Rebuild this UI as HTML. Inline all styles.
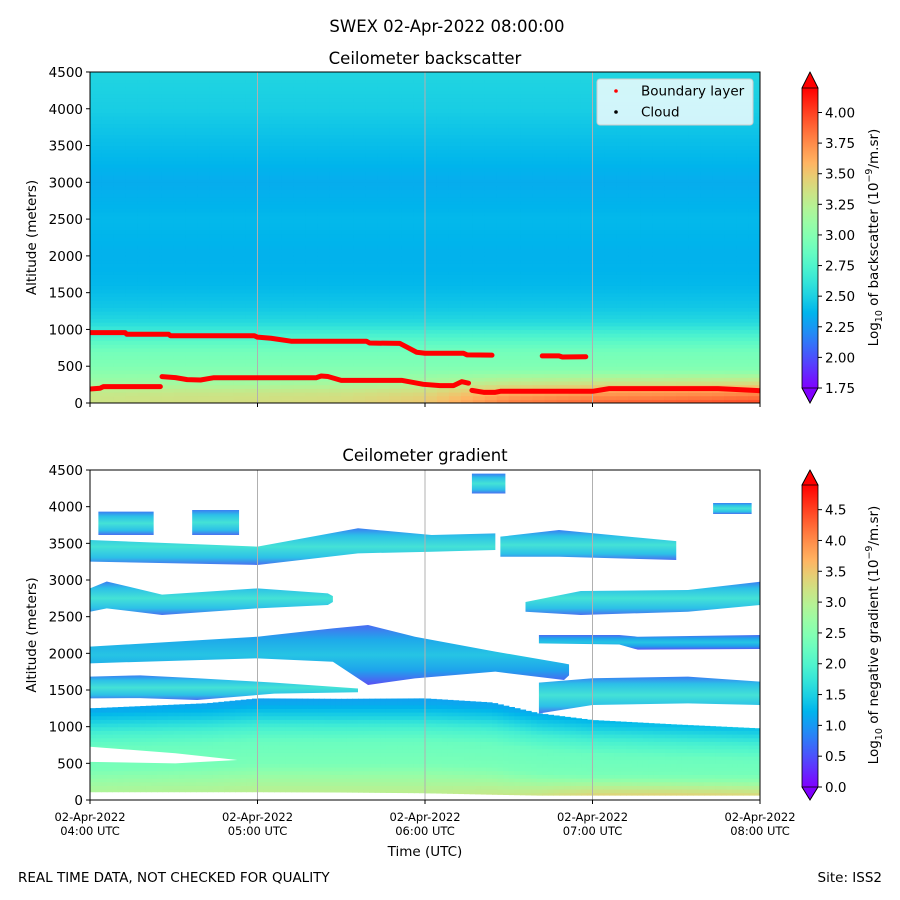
<!DOCTYPE html>
<html><head><meta charset="utf-8"><style>
html,body{margin:0;padding:0;background:#fff}
svg{display:block;font-family:"DejaVu Sans","Liberation Sans",sans-serif}
</style></head><body>
<svg id="fig" width="900" height="900" viewBox="0 0 900 900" xmlns="http://www.w3.org/2000/svg">
<defs>
<clipPath id="clipTop"><rect x="90" y="72" width="670" height="331"/></clipPath>
<clipPath id="clipBot"><rect x="90" y="470" width="670" height="330"/></clipPath>
<linearGradient id="bandGrad" x1="0" y1="0" x2="0" y2="1">
<stop offset="0" stop-color="#3a7ef2"/><stop offset="0.2" stop-color="#2cc0e8"/><stop offset="0.5" stop-color="#44e2d6"/><stop offset="0.8" stop-color="#2cc0e8"/><stop offset="1" stop-color="#4a70f0"/>
</linearGradient>
<linearGradient id="bandGrad2" x1="0" y1="0" x2="0" y2="1">
<stop offset="0" stop-color="#4a6cf2"/><stop offset="0.25" stop-color="#1eaaea"/><stop offset="0.5" stop-color="#26c4e4"/><stop offset="0.75" stop-color="#1ea4ec"/><stop offset="1" stop-color="#5a50f4"/>
</linearGradient>
<linearGradient id="cbTopGrad" x1="0" y1="1" x2="0" y2="0"></linearGradient>
<linearGradient id="cbBotGrad" x1="0" y1="1" x2="0" y2="0"></linearGradient>
</defs>
<text x="447" y="32" font-size="16.5" text-anchor="middle">SWEX 02-Apr-2022 08:00:00</text>
<text x="425" y="64" font-size="16.5" text-anchor="middle">Ceilometer backscatter</text>
<text x="425" y="461" font-size="16.5" text-anchor="middle">Ceilometer gradient</text>
<g id="topHeat" clip-path="url(#clipTop)"></g>
<g id="botHeat" clip-path="url(#clipBot)"></g>
<g id="grid"></g>
<g id="blayer" clip-path="url(#clipTop)"></g>
<rect x="90" y="72" width="670" height="331" fill="none" stroke="#000" stroke-width="1"/>
<rect x="90" y="470" width="670" height="330" fill="none" stroke="#000" stroke-width="1"/>
<g id="axes" font-size="13.5"></g>
<g>
<rect x="597" y="79" width="156" height="46" rx="3" fill="#fff" fill-opacity="0.8" stroke="#ccc"/>
<circle cx="616" cy="91" r="1.8" fill="#f00"/>
<text x="641" y="95.5" font-size="13.5">Boundary layer</text>
<circle cx="616" cy="112" r="1.8" fill="#000"/>
<text x="641" y="116.5" font-size="13.5">Cloud</text>
</g>
<g id="cbars" font-size="13.5"></g>
<text x="425" y="856" font-size="13.5" text-anchor="middle">Time (UTC)</text>
<text x="18" y="882" font-size="13.5">REAL TIME DATA, NOT CHECKED FOR QUALITY</text>
<text x="882" y="882" font-size="13.5" text-anchor="end">Site: ISS2</text>
</svg>
<script>
// ---------- data ----------
const xTickHours = [4, 5, 6, 7, 8];
const xTickLabels = ["04:00 UTC", "05:00 UTC", "06:00 UTC", "07:00 UTC", "08:00 UTC"];
const yTicks = [0, 500, 1000, 1500, 2000, 2500, 3000, 3500, 4000, 4500];
const cbTopTicks = [1.75, 2.00, 2.25, 2.50, 2.75, 3.00, 3.25, 3.50, 3.75, 4.00];
const cbBotTicks = [0.0, 0.5, 1.0, 1.5, 2.0, 2.5, 3.0, 3.5, 4.0, 4.5];

// backscatter profile (log10) vs altitude
const profileAlt = [0, 150, 300, 500, 700, 900, 1100, 1300, 1600, 2000, 2500, 3000, 3500, 4000, 4500];
const profileVal = [3.35, 3.3, 3.1, 2.98, 2.92, 2.75, 2.55, 2.45, 2.38, 2.35, 2.38, 2.33, 2.4, 2.48, 2.52];
const groundHours = [4, 4.5, 5, 5.5, 6, 6.5, 7, 7.5, 8];
const groundOffset = [0, 0.02, 0.03, 0.05, 0.12, 0.35, 0.42, 0.45, 0.5];

// boundary layer (hours, meters), NaN = gap
const blUpperT = [4.0, 4.21, 4.22, 4.47, 4.48, 4.98, 5.0, 5.08, 5.2, 5.65, 5.67, 5.85, 5.9, 5.95, 6.0, 6.23, 6.25, 6.4, NaN, 6.7, 6.8, 6.82, 6.96];
const blUpperA = [956, 956, 934, 934, 915, 915, 895, 880, 840, 840, 815, 810, 750, 690, 676, 676, 655, 650, NaN, 640, 640, 625, 628];
const blLowerT = [4.0, 4.06, 4.08, 4.42, NaN, 4.43, 4.51, 4.58, 4.66, 4.74, 5.35, 5.38, 5.42, 5.5, 5.86, 5.99, 6.09, 6.17, 6.22, 6.26, NaN, 6.28, 6.35, 6.42, 6.45, 7.0, 7.1, 7.75, 7.98, 8.0];
const blLowerA = [190, 200, 222, 222, NaN, 358, 345, 318, 313, 344, 344, 367, 360, 308, 308, 254, 236, 236, 290, 270, NaN, 172, 145, 145, 159, 159, 195, 195, 170, 167];

// gradient panel: lower mass
const massT = [4.0, 4.4, 4.7, 5.0, 5.5, 6.0, 6.4, 6.68, 7.0, 7.5, 8.0];
const massTop = [1250, 1290, 1320, 1386, 1380, 1386, 1330, 1182, 1091, 1030, 977];
const massBot = [114, 114, 114, 114, 110, 100, 80, 68, 68, 68, 68];
const massAlt = [0, 100, 300, 500, 800, 1000, 1150, 1300, 1450];
const massVal = [3.2, 3.05, 2.75, 2.4, 2.25, 1.9, 1.5, 1.15, 1.0];
const massGroundOffset = [0, 0, 0, 0, 0, 0.2, 0.7, 0.8, 0.8];
const wedgeT = [4.0, 4.51, 4.88, 4.51, 4.0];
const wedgeA = [727, 637, 546, 500, 520];

// cloud bands: times, tops, bottoms
const b15LT = [4.0, 4.3, 4.64, 5.0, 5.1, 5.6];
const b15LTop = [1682, 1700, 1660, 1614, 1600, 1520];
const b15LBot = [1386, 1390, 1364, 1432, 1450, 1470];
const b15RT = [6.68, 7.0, 7.57, 8.0];
const b15RTop = [1600, 1660, 1682, 1614];
const b15RBot = [1180, 1295, 1318, 1295];
const b20T = [4.0, 5.0, 5.45, 5.66, 5.94, 6.42, 6.83, 6.86];
const b20Top = [2091, 2227, 2341, 2386, 2227, 2023, 1864, 1850];
const b20Bot = [1864, 1932, 1886, 1568, 1659, 1750, 1637, 1700];
const b20RT = [6.68, 7.16, 7.27, 8.0];
const b20RTop = [2250, 2250, 2227, 2250];
const b20RBot = [2136, 2120, 2050, 2060];
const b27LT = [4.0, 4.1, 4.43, 5.0, 5.42, 5.45];
const b27LTop = [2886, 2980, 2800, 2886, 2818, 2780];
const b27LBot = [2568, 2614, 2523, 2614, 2659, 2700];
const b27RT = [6.6, 6.93, 7.57, 8.0];
const b27RTop = [2700, 2850, 2863, 2977];
const b27RBot = [2568, 2523, 2568, 2659];
const b34LT = [4.0, 5.0, 5.6, 6.04, 6.42];
const b34LTop = [3545, 3455, 3705, 3614, 3636];
const b34LBot = [3250, 3205, 3364, 3386, 3409];
const b34RT = [6.45, 6.8, 7.5];
const b34RTop = [3591, 3682, 3530];
const b34RBot = [3318, 3318, 3273];
const blob1T = [4.05, 4.38];
const blob1Top = [3932, 3932];
const blob1Bot = [3614, 3614];
const blob2T = [4.61, 4.89];
const blob2Top = [3955, 3955];
const blob2Bot = [3614, 3614];
const blob3T = [6.28, 6.48];
const blob3Top = [4450, 4450];
const blob3Bot = [4180, 4180];
const blob4T = [7.72, 7.95];
const blob4Top = [4050, 4050];
const blob4Bot = [3900, 3900];

// ---------- helpers ----------
const NS = "http://www.w3.org/2000/svg";
const X = h => 90 + (h - 4) * 167.5;
const YT = a => 403 - a * 0.07356;
const YB = a => 800 - a * 0.07333;
function mk(tag, attrs, parent) {
  const e = document.createElementNS(NS, tag);
  for (const k in attrs) e.setAttribute(k, attrs[k]);
  parent.appendChild(e);
  return e;
}
function interp(xs, ys, x) {
  if (x <= xs[0]) return ys[0];
  for (let i = 1; i < xs.length; i++) if (x <= xs[i]) {
    const f = (x - xs[i-1]) / (xs[i] - xs[i-1]);
    return ys[i-1] + f * (ys[i] - ys[i-1]);
  }
  return ys[ys.length - 1];
}
function rainbow(t) {
  t = Math.max(0, Math.min(1, t));
  const r = Math.min(1, Math.abs(2 * t - 0.5)), g = Math.sin(Math.PI * t), b = Math.cos(Math.PI * t / 2);
  return `rgb(${Math.round(r*255)},${Math.round(g*255)},${Math.round(b*255)})`;
}
const cTop = v => rainbow((v - 1.75) / (4.2 - 1.75));
const cBot = v => rainbow(v / 4.9);

// ---------- top heatmap ----------
const topHeat = document.getElementById('topHeat');
const nCols = 56, nBins = 90;
for (let c = 0; c < nCols; c++) {
  const h0 = 4 + c * 4 / nCols, h1 = 4 + (c + 1) * 4 / nCols, hm = (h0 + h1) / 2;
  const go = interp(groundHours, groundOffset, hm);
  for (let b = 0; b < nBins; b++) {
    const a0 = b * 50, a1 = a0 + 50, am = a0 + 25;
    let v = interp(profileAlt, profileVal, am);
    if (am < 450) v += go * (1 - am / 450) * 1.3;
    const r = mk('rect', {x: X(h0), y: YT(a1), width: X(h1) - X(h0) + 0.6, height: YT(a0) - YT(a1) + 0.6, fill: cTop(v)}, topHeat);
    
    
  }
}

// ---------- bottom heatmap ----------
const botHeat = document.getElementById('botHeat');
mk('rect', {x: 90, y: 470, width: 670, height: 330, fill: '#fff'}, botHeat);
const nColsB = 120;
for (let c = 0; c < nColsB; c++) {
  const h0 = 4 + c * 4 / nColsB, h1 = 4 + (c + 1) * 4 / nColsB, hm = (h0 + h1) / 2;
  const top = interp(massT, massTop, hm), bot = interp(massT, massBot, hm);
  const go = interp(groundHours, massGroundOffset, hm);
  for (let a0 = Math.floor(bot / 50) * 50; a0 < top; a0 += 50) {
    const lo = Math.max(a0, bot), hi = Math.min(a0 + 50, top), am = (lo + hi) / 2;
    let v = interp(massAlt, massVal, am + (1386 - top) * 0.6);
    if (am < 350) v += go * (1 - am / 350);
    const r = mk('rect', {x: X(h0), y: YB(hi), width: X(h1) - X(h0) + 0.6, height: YB(lo) - YB(hi) + 0.6, fill: cBot(v)}, botHeat);
    
    
  }
}
function polyPts(ts, tops, bots) {
  const p = [];
  for (let i = 0; i < ts.length; i++) p.push(X(ts[i]) + ',' + YB(tops[i]));
  for (let i = ts.length - 1; i >= 0; i--) p.push(X(ts[i]) + ',' + YB(bots[i]));
  return p.join(' ');
}
const wp = wedgeT.map((t, i) => X(t) + ',' + YB(wedgeA[i])).join(' ');
const wedge = mk('polygon', {points: wp, fill: '#fff'}, botHeat);


const bands = [
  [b15LT, b15LTop, b15LBot, 'url(#bandGrad)', 'cloud-band-1500-left'],
  [b15RT, b15RTop, b15RBot, 'url(#bandGrad)', 'cloud-band-1500-right'],
  [b20T, b20Top, b20Bot, 'url(#bandGrad2)', 'cloud-band-2000'],
  [b20RT, b20RTop, b20RBot, 'url(#bandGrad2)', 'cloud-band-2000-right'],
  [b27LT, b27LTop, b27LBot, 'url(#bandGrad)', 'cloud-band-2700-left'],
  [b27RT, b27RTop, b27RBot, 'url(#bandGrad)', 'cloud-band-2700-right'],
  [b34LT, b34LTop, b34LBot, 'url(#bandGrad)', 'cloud-band-3400-left'],
  [b34RT, b34RTop, b34RBot, 'url(#bandGrad)', 'cloud-band-3400-right'],
  [blob1T, blob1Top, blob1Bot, 'url(#bandGrad)', 'cloud-blob'],
  [blob2T, blob2Top, blob2Bot, 'url(#bandGrad)', 'cloud-blob'],
  [blob3T, blob3Top, blob3Bot, 'url(#bandGrad)', 'cloud-blob'],
  [blob4T, blob4Top, blob4Bot, 'url(#bandGrad)', 'cloud-blob']
];
bands.forEach(bd => {
  const p = mk('polygon', {points: polyPts(bd[0], bd[1], bd[2]), fill: bd[3]}, botHeat);
  
  
});

// ---------- grid ----------
const grid = document.getElementById('grid');
xTickHours.slice(1, -1).forEach(h => {
  const l1 = mk('line', {x1: X(h), x2: X(h), y1: 72, y2: 403, stroke: '#b0b0b0', 'stroke-width': 1}, grid);
  
  
  const l2 = mk('line', {x1: X(h), x2: X(h), y1: 470, y2: 800, stroke: '#b0b0b0', 'stroke-width': 1}, grid);
  
  
});

// ---------- boundary layer ----------
const bl = document.getElementById('blayer');
function drawLine(ts, as, name) {
  let seg = [];
  const flush = () => {
    if (seg.length) {
      const p = mk('polyline', {points: seg.join(' '), fill: 'none', stroke: '#f00', 'stroke-width': 5, 'stroke-linecap': 'round', 'stroke-linejoin': 'round'}, bl);
      
      
    }
    seg = [];
  };
  for (let i = 0; i < ts.length; i++) {
    if (isNaN(ts[i])) { flush(); continue; }
    seg.push(X(ts[i]) + ',' + YT(as[i]));
  }
  flush();
}
drawLine(blUpperT, blUpperA, 'boundary-layer-upper');
drawLine(blLowerT, blLowerA, 'boundary-layer-lower');

// ---------- axes ----------
const axes = document.getElementById('axes');
[[YT, 403], [YB, 800]].forEach(([Y, base], pi) => {
  yTicks.forEach(v => {
    const t = mk('line', {x1: 86, x2: 90, y1: Y(v), y2: Y(v), stroke: '#000'}, axes);
    
    
    const tx = mk('text', {x: 83, y: Y(v) + 5, 'text-anchor': 'end'}, axes);
    tx.textContent = v;
    
    
  });
  xTickHours.forEach(h => {
    const t = mk('line', {x1: X(h), x2: X(h), y1: base, y2: base + 4, stroke: '#000'}, axes);
    
    
  });
  const yl = mk('text', {x: 0, y: 0, 'text-anchor': 'middle', transform: `translate(36,${(Y(0) + Y(4500)) / 2}) rotate(-90)`}, axes);
  yl.textContent = 'Altitude (meters)';
  
  
});
xTickHours.forEach((h, i) => {
  const t1 = mk('text', {x: X(h), y: 821, 'text-anchor': 'middle', 'font-size': 11.5}, axes);
  t1.textContent = '02-Apr-2022';
  
  
  const t2 = mk('text', {x: X(h), y: 835, 'text-anchor': 'middle', 'font-size': 11.5}, axes);
  t2.textContent = xTickLabels[i];
  
  
});

// ---------- colorbars ----------
const cbars = document.getElementById('cbars');
function colorbar(gradId, cfn, vmin, vmax, yBot, yTop, apexBot, apexTop, ticks, fmt, label, name) {
  const g = document.getElementById(gradId);
  for (let i = 0; i <= 20; i++) {
    mk('stop', {offset: i / 20, 'stop-color': cfn(vmin + (vmax - vmin) * i / 20)}, g);
  }
  const Yc = v => yBot - (v - vmin) / (vmax - vmin) * (yBot - yTop);
  const body = mk('rect', {x: 802, y: yTop, width: 16, height: yBot - yTop, fill: `url(#${gradId})`}, cbars);
  
  
  const tu = mk('polygon', {points: `802,${yTop} 818,${yTop} 810,${apexTop}`, fill: cfn(vmax + 1), stroke: '#000', 'stroke-width': 0.8}, cbars);
  
  
  const td = mk('polygon', {points: `802,${yBot} 818,${yBot} 810,${apexBot}`, fill: cfn(vmin - 1), stroke: '#000', 'stroke-width': 0.8}, cbars);
  
  
  mk('polyline', {points: `810,${apexTop} 802,${yTop} 802,${yBot} 810,${apexBot} 818,${yBot} 818,${yTop} 810,${apexTop}`, fill: 'none', stroke: '#000', 'stroke-width': 0.8}, cbars);
  ticks.forEach(v => {
    const y = Yc(v);
    const l = mk('line', {x1: 818, x2: 822, y1: y, y2: y, stroke: '#000'}, cbars);
    
    
    const t = mk('text', {x: 825, y: y + 5}, cbars);
    t.textContent = v.toFixed(fmt);
    
    
  });
  const cy = (apexTop + apexBot) / 2;
  const lab = mk('text', {x: 0, y: 0, 'text-anchor': 'middle', transform: `translate(878,${cy}) rotate(-90)`}, cbars);
  lab.innerHTML = `Log<tspan font-size="9.5" dy="4">10</tspan><tspan dy="-4"> of ${label} (10</tspan><tspan font-size="9.5" dy="-6">−9</tspan><tspan dy="6">/m.sr)</tspan>`;
  
  
}
colorbar('cbTopGrad', cTop, 1.75, 4.2, 388, 88, 403, 72, cbTopTicks, 2, 'backscatter', 'top-colorbar');
colorbar('cbBotGrad', cBot, 0, 4.9, 787, 485, 800, 470, cbBotTicks, 1, 'negative gradient', 'bottom-colorbar');
</script>
</body></html>
